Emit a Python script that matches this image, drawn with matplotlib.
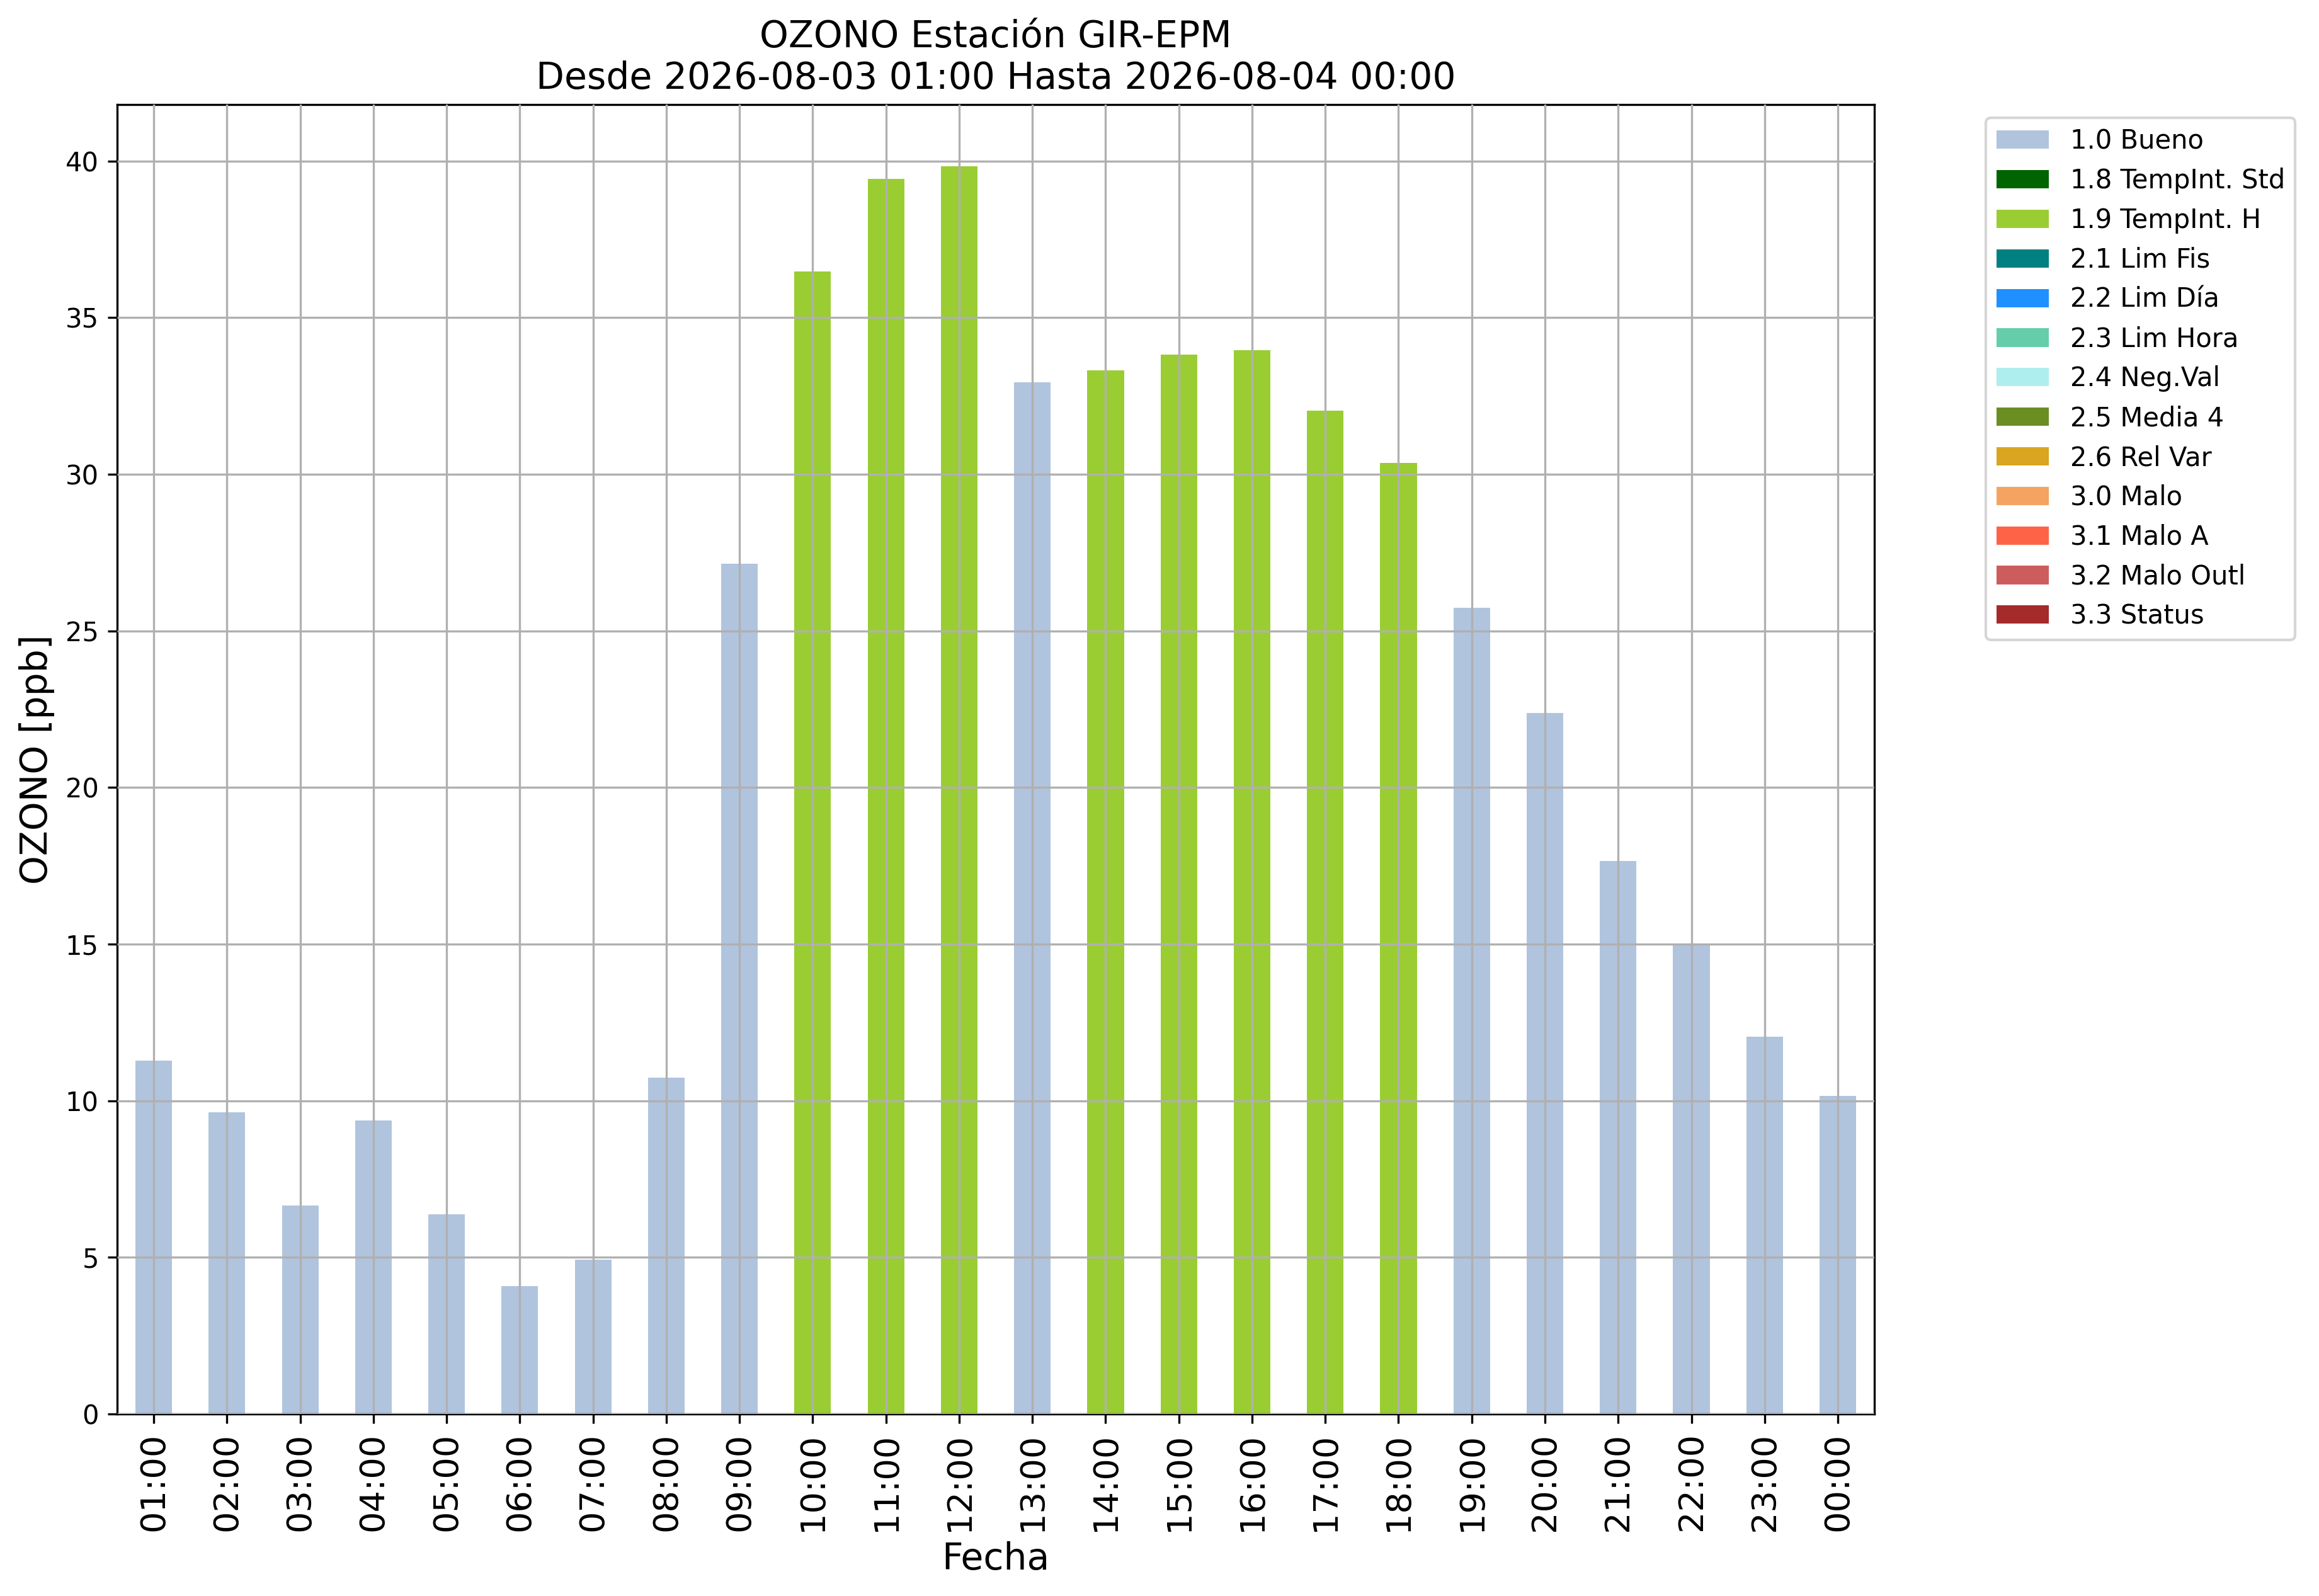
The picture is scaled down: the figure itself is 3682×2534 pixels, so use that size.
import numpy as np
import matplotlib
matplotlib.use("Agg")
import matplotlib.pyplot as plt

# horas del dia (etiquetas del eje x)
horas = ["01:00", "02:00", "03:00", "04:00", "05:00", "06:00", "07:00", "08:00",
         "09:00", "10:00", "11:00", "12:00", "13:00", "14:00", "15:00", "16:00",
         "17:00", "18:00", "19:00", "20:00", "21:00", "22:00", "23:00", "00:00"]

# valores de ozono [ppb]
ozono = [11.28, 9.64, 6.65, 9.38, 6.38, 4.08, 4.93, 10.73,
         27.15, 36.47, 39.43, 39.82, 32.94, 33.31, 33.81, 33.95,
         32.02, 30.37, 25.74, 22.38, 17.66, 15.02, 12.04, 10.15]

# bandera de calidad de cada hora
banderas = ["1.0 Bueno"] * 9 + ["1.9 TempInt. H"] * 3 + ["1.0 Bueno"] + \
           ["1.9 TempInt. H"] * 5 + ["1.0 Bueno"] * 6

categorias = ["1.0 Bueno", "1.8 TempInt. Std", "1.9 TempInt. H", "2.1 Lim Fis",
              "2.2 Lim Día", "2.3 Lim Hora", "2.4 Neg.Val", "2.5 Media 4",
              "2.6 Rel Var", "3.0 Malo", "3.1 Malo A", "3.2 Malo Outl", "3.3 Status"]
colores = ["lightsteelblue", "darkgreen", "yellowgreen", "teal", "dodgerblue",
           "mediumaquamarine", "paleturquoise", "olivedrab", "goldenrod",
           "sandybrown", "tomato", "indianred", "brown"]

fig = plt.figure(figsize=(3682 / 300, 2534 / 300), dpi=300)
ax = fig.add_axes([0.0505, 0.1140, 0.7578, 0.8205])

x = np.arange(len(horas))
valores = np.array(ozono)
fondo = np.zeros(len(horas))
for cat, col in zip(categorias, colores):
    alto = np.where(np.array(banderas) == cat, valores, 0.0)
    ax.bar(x, alto, width=0.5, bottom=fondo, color=col, label=cat)
    fondo += alto

ax.set_xlim(-0.5, len(horas) - 0.5)
ax.set_ylim(0, 41.8)
ax.set_xticks(x)
ax.set_xticklabels(horas, rotation=90, fontsize=13)
ax.tick_params(axis="y", labelsize=10)
ax.grid(True, color="#b0b0b0", linewidth=0.8)
ax.set_axisbelow(False)

ax.set_title("OZONO Estación GIR-EPM\nDesde 2026-08-03 01:00 Hasta 2026-08-04 00:00",
             fontsize=14)
ax.set_ylabel("OZONO [ppb]", fontsize=14)
ax.set_xlabel("Fecha", fontsize=14)

ax.legend(loc="upper left", bbox_to_anchor=(1.056, 1), fontsize=10)

fig.savefig("out.png", dpi=300)
